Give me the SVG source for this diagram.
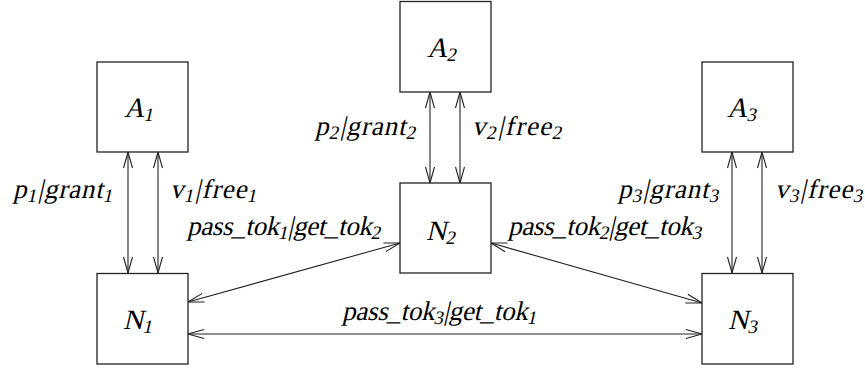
<svg xmlns="http://www.w3.org/2000/svg" width="865" height="368" viewBox="0 0 865 368">
<style>
.box{fill:#fff;stroke:#222;stroke-width:1.3}
.edge{stroke:#222;stroke-width:1.1;fill:none;marker-start:url(#ah);marker-end:url(#ah)}
text{font-family:"Liberation Serif","DejaVu Serif","Times New Roman",serif;font-style:normal;font-size:27px;fill:#000}
.s{font-size:19px}
.b{font-size:28px}
</style>
<defs>
<marker id="ah" viewBox="-17 -6 18 12" refX="0" refY="0" markerWidth="18" markerHeight="12" markerUnits="userSpaceOnUse" orient="auto-start-reverse">
<path d="M-16,-4.5 L0,0 L-16,4.5" fill="none" stroke="#222" stroke-width="1.1"/>
</marker>
</defs>
<g id="connectors">
<line class="edge" x1="128" y1="152" x2="128" y2="273"/>
<line class="edge" x1="158" y1="152" x2="158" y2="273"/>
<line class="edge" x1="430" y1="92" x2="430" y2="183"/>
<line class="edge" x1="460" y1="92" x2="460" y2="183"/>
<line class="edge" x1="732" y1="152" x2="732" y2="273"/>
<line class="edge" x1="762" y1="152" x2="762" y2="273"/>
<line class="edge" x1="188" y1="302" x2="400" y2="243"/>
<line class="edge" x1="491" y1="243" x2="702" y2="303"/>
<line class="edge" x1="188" y1="334" x2="702" y2="334"/>
<text transform="translate(13,198) skewX(-13)" textLength="100" lengthAdjust="spacing">p<tspan class="s" dy="4">1</tspan><tspan dy="-4">|</tspan>grant<tspan class="s" dy="4">1</tspan></text>
<text transform="translate(170,198) skewX(-13)" textLength="87" lengthAdjust="spacing">v<tspan class="s" dy="4">1</tspan><tspan dy="-4">|</tspan>free<tspan class="s" dy="4">1</tspan></text>
<text transform="translate(315,135) skewX(-13)" textLength="101" lengthAdjust="spacing">p<tspan class="s" dy="4">2</tspan><tspan dy="-4">|</tspan>grant<tspan class="s" dy="4">2</tspan></text>
<text transform="translate(472,135) skewX(-13)" textLength="90" lengthAdjust="spacing">v<tspan class="s" dy="4">2</tspan><tspan dy="-4">|</tspan>free<tspan class="s" dy="4">2</tspan></text>
<text transform="translate(618,198) skewX(-13)" textLength="101" lengthAdjust="spacing">p<tspan class="s" dy="4">3</tspan><tspan dy="-4">|</tspan>grant<tspan class="s" dy="4">3</tspan></text>
<text transform="translate(775,198) skewX(-13)" textLength="88" lengthAdjust="spacing">v<tspan class="s" dy="4">3</tspan><tspan dy="-4">|</tspan>free<tspan class="s" dy="4">3</tspan></text>
<text transform="translate(187,235) skewX(-13)" textLength="194" lengthAdjust="spacing">pass_tok<tspan class="s" dy="4">1</tspan><tspan dy="-4">|</tspan>get_tok<tspan class="s" dy="4">2</tspan></text>
<text transform="translate(508,235) skewX(-13)" textLength="194" lengthAdjust="spacing">pass_tok<tspan class="s" dy="4">2</tspan><tspan dy="-4">|</tspan>get_tok<tspan class="s" dy="4">3</tspan></text>
<text transform="translate(342,320) skewX(-13)" textLength="195" lengthAdjust="spacing">pass_tok<tspan class="s" dy="4">3</tspan><tspan dy="-4">|</tspan>get_tok<tspan class="s" dy="4">1</tspan></text>
</g>
<g id="A1"><rect class="box" x="97" y="62" width="91" height="90"/><text class="b" transform="translate(124,117) skewX(-13)">A<tspan class="s" dy="4">1</tspan></text></g>
<g id="A2"><rect class="box" x="400" y="1.5" width="91" height="90.5"/><text class="b" transform="translate(427,57) skewX(-13)">A<tspan class="s" dy="4">2</tspan></text></g>
<g id="A3"><rect class="box" x="702" y="62" width="91" height="90"/><text class="b" transform="translate(727,117) skewX(-13)">A<tspan class="s" dy="4">3</tspan></text></g>
<g id="N1"><rect class="box" x="97" y="273.5" width="91" height="90.5"/><text class="b" transform="translate(123,329) skewX(-13)">N<tspan class="s" dy="4">1</tspan></text></g>
<g id="N2"><rect class="box" x="400" y="183" width="91" height="90"/><text class="b" transform="translate(426,240) skewX(-13)">N<tspan class="s" dy="4">2</tspan></text></g>
<g id="N3"><rect class="box" x="702" y="273.5" width="91" height="90.5"/><text class="b" transform="translate(728,329) skewX(-13)">N<tspan class="s" dy="4">3</tspan></text></g>
</svg>
